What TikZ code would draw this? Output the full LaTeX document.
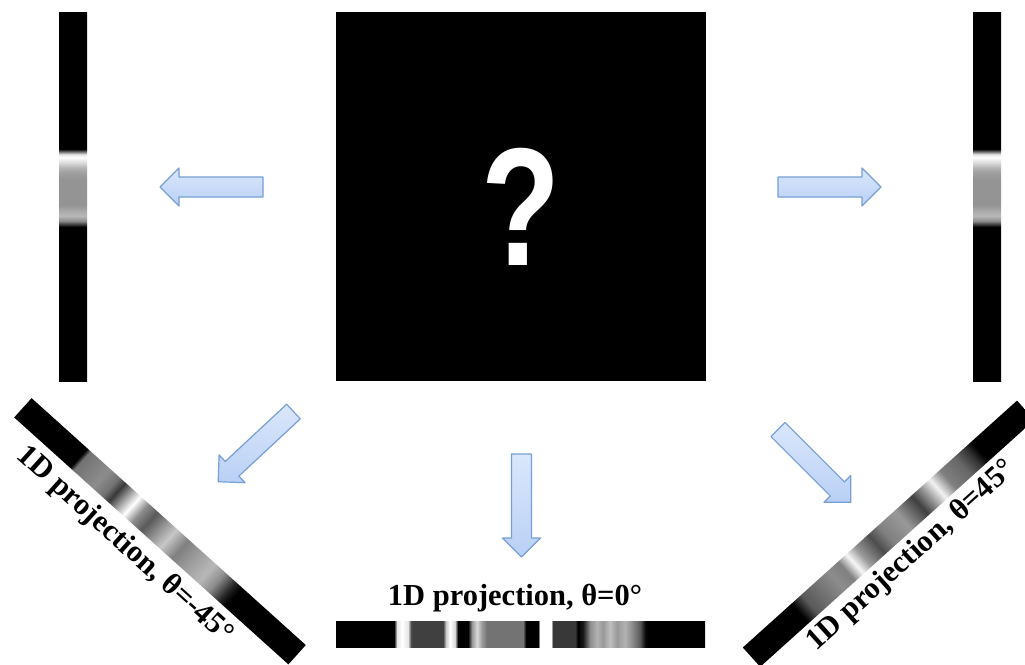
\documentclass[tikz,border=0pt]{standalone}
\usepackage{fontspec}
\setmainfont{Liberation Serif}
\newfontfamily\qfont{Liberation Sans}
\definecolor{arrowtop}{HTML}{DAE7FC}
\definecolor{arrowbot}{HTML}{B9D0F5}
\definecolor{arrowedge}{HTML}{779FD6}

% profile of the vertical projections (bottom -> top)
\pgfdeclareverticalshading{vprof}{100bp}{color(0bp)=(black); color(45.87bp)=(black); color(46.68bp)=(white!55!black); color(47.36bp)=(white!72!black); color(47.9bp)=(white!68!black); color(48.85bp)=(white!58!black); color(52.24bp)=(white!58!black); color(53.18bp)=(white!62!black); color(53.86bp)=(white!70!black); color(54.54bp)=(white!85!black); color(55.3bp)=(white); color(55.7bp)=(white!90!black); color(56.44bp)=(black); color(100bp)=(black)}

% theta = 0 projection (left -> right)
\pgfdeclarehorizontalshading{hprof}{100bp}{color(0bp)=(black); color(32.86bp)=(black); color(33.27bp)=(white!90!black); color(33.94bp)=(white); color(34.76bp)=(white!90!black); color(35.16bp)=(white!30!black); color(35.43bp)=(white!25!black); color(39.5bp)=(white!25!black); color(39.91bp)=(white!80!black); color(40.45bp)=(white); color(41.12bp)=(white!85!black); color(41.53bp)=(black); color(42.89bp)=(black); color(43.43bp)=(white!60!black); color(44.11bp)=(white!85!black); color(44.78bp)=(white!60!black); color(45.46bp)=(white!45!black); color(50.34bp)=(white!45!black); color(50.75bp)=(black); color(52.37bp)=(black); color(52.64bp)=(white); color(54.13bp)=(white); color(54.4bp)=(white!22!black); color(57.39bp)=(white!22!black); color(57.79bp)=(black); color(58.47bp)=(white!10!black); color(59.42bp)=(white!55!black); color(60.37bp)=(white!70!black); color(61.18bp)=(white!60!black); color(62.13bp)=(white!75!black); color(63.08bp)=(white!60!black); color(64.16bp)=(white!70!black); color(65.11bp)=(white!55!black); color(66.19bp)=(white!35!black); color(66.87bp)=(white!5!black); color(67.28bp)=(black); color(100bp)=(black)}

% theta = -45 projection (upper left -> lower right)
\pgfdeclarehorizontalshading{lprof}{100bp}{color(0bp)=(black); color(35.15bp)=(black); color(35.75bp)=(white!45!black); color(37.5bp)=(white!50!black); color(39.25bp)=(white!55!black); color(41bp)=(white!45!black); color(42.1bp)=(white!22!black); color(43.75bp)=(white!70!black); color(44.85bp)=(white); color(46.35bp)=(white!55!black); color(48bp)=(white!35!black); color(50bp)=(white!60!black); color(51.5bp)=(white!78!black); color(53.65bp)=(white!50!black); color(56bp)=(white!62!black); color(58.5bp)=(white!72!black); color(60.3bp)=(white!55!black); color(62.25bp)=(white!15!black); color(63.35bp)=(black); color(100bp)=(black)}

% theta = 45 projection (lower left -> upper right)
\pgfdeclarehorizontalshading{rprof}{100bp}{color(0bp)=(black); color(33.85bp)=(black); color(35.65bp)=(white!35!black); color(38.1bp)=(white!45!black); color(40.5bp)=(white!55!black); color(42.35bp)=(white!50!black); color(43.85bp)=(white!97!black); color(45.4bp)=(white!60!black); color(47.85bp)=(white!30!black); color(49.65bp)=(white!50!black); color(52.7bp)=(white!60!black); color(55.75bp)=(white!25!black); color(57.5bp)=(white!60!black); color(59.05bp)=(white!95!black); color(60.9bp)=(white!50!black); color(63.65bp)=(white!40!black); color(65.45bp)=(white!20!black); color(66.65bp)=(black); color(100bp)=(black)}

\tikzset{
  blockarrow/.style={draw=arrowedge, line width=1.2pt, line join=round, top color=arrowtop, bottom color=arrowbot},
  pics/barrow/.style={code={\path[blockarrow] (0,-10) -- (84,-10) -- (84,-19) -- (103,0) -- (84,19) -- (84,10) -- (0,10) -- cycle;}},
  lbl/.style={font=\bfseries\fontsize{30.5}{30.5}\selectfont, inner sep=0pt},
}

\begin{document}
\begin{tikzpicture}[x=1pt,y=-1pt]
\useasboundingbox[fill=white] (0,0) rectangle (1025,664);

% unknown image
\node[fill=black, minimum width=370, minimum height=369, inner sep=0pt] (img) at (521,196.5) {};
\node[text=white, font=\qfont\bfseries\fontsize{168}{168}\selectfont, xscale=0.77, inner sep=0pt] (qm) at (521,207) {?};

% vertical projections
\shade[shading=vprof] (59,12) rectangle (87,381);
\shade[shading=vprof] (973,12) rectangle (1001,381);

% horizontal projection
\shade[shading=hprof] (336,621) rectangle (705,647);
\node[lbl, anchor=base] (t0) at (515,605) {1D projection, θ=0°};

% diagonal projections
\begin{scope}[transform canvas={shift={(160,531.25)}, rotate=-42}]
  \shade[shading=lprof] (-184.5,-13) rectangle (184.5,13);
\end{scope}
\begin{scope}[transform canvas={shift={(888.6,533.7)}, rotate=42}]
  \shade[shading=rprof] (-184.5,-13) rectangle (184.5,13);
\end{scope}
\node[lbl, rotate=-42] (tl) at (124.6,545.2) {1D projection, θ=-45°};
\node[lbl, rotate=42] (tr) at (911.5,556.2) {1D projection, θ=45°};

% arrows
\pic[rotate=180] at (263,187) {barrow};
\pic at (778,187) {barrow};
\pic[rotate=-90] at (521.5,454) {barrow};
\pic[rotate=-137] at (293.5,411.5) {barrow};
\pic[rotate=-45] at (778,429.5) {barrow};
\end{tikzpicture}
\end{document}
